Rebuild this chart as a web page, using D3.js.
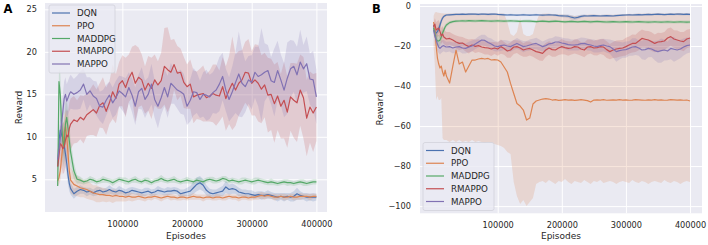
<!DOCTYPE html>
<html>
<head>
<meta charset="utf-8">
<script src="https://cdn.jsdelivr.net/npm/d3@7"></script>
<style>
  html, body { margin: 0; padding: 0; background: #fff; }
  svg { display: block; font-family: "DejaVu Sans", sans-serif; }
</style>
</head>
<body>
<svg id="chart" width="708" height="245"></svg>
<script>
const METHODS = ['DQN', 'PPO', 'MADDPG', 'RMAPPO', 'MAPPO'];
const COLORS = { DQN: '#4c72b0', PPO: '#dd8452', MADDPG: '#55a868', RMAPPO: '#c44e52', MAPPO: '#8172b3' };

// logged every 2000 episodes at the start, every 5000 after
const EPISODES = d3.range(0, 20000, 2000).concat(d3.range(20000, 400001, 5000));
const X_TICKS = [100000, 200000, 300000, 400000];
const Y_TICKS_A = [5, 10, 15, 20, 25];
const Y_TICKS_B = [0, -20, -40, -60, -80, -100];

// ---- panel A : mean reward and spread ----
const dqnA = [6.5, 9.5, 10.8, 10.3, 9.8, 9.0, 8.0, 6.9, 5.5, 4.5,
  3.9, 3.3, 3.6, 3.8, 3.7, 3.5, 3.6, 3.4, 3.6, 3.7, 3.5,
  3.6, 3.8, 3.6, 3.5, 3.7, 3.6, 3.4, 3.5, 3.7, 3.6, 3.5,
  3.4, 3.5, 3.6, 3.4, 3.5, 3.7, 3.6, 3.5, 3.6, 3.6, 3.7,
  3.6, 3.3, 3.4, 3.5, 3.6, 4.0, 4.4, 4.6, 4.3, 3.7, 3.4,
  3.3, 3.4, 3.5, 3.6, 4.1, 3.8, 3.9, 3.8, 3.5, 3.4, 3.3,
  3.3, 3.2, 3.1, 3.2, 3.1, 3.1, 3.2, 3.1, 3.0, 2.9, 3.0,
  2.9, 3.0, 2.9, 3.0, 3.3, 3.1, 3.0, 2.9, 2.9, 2.9, 2.9];
const dqnA_sd = [0.5, 1.0, 1.5, 1.5, 1.5, 1.5, 1.4, 1.3, 1.1, 0.9,
  0.7, 0.6, 0.5, 0.5, 0.4, 0.5, 0.4, 0.4, 0.5, 0.4, 0.4,
  0.4, 0.5, 0.4, 0.4, 0.5, 0.4, 0.4, 0.5, 0.4, 0.4, 0.4,
  0.4, 0.5, 0.4, 0.4, 0.4, 0.5, 0.4, 0.4, 0.5, 0.4, 0.4,
  0.4, 0.5, 0.4, 0.5, 0.6, 0.7, 0.8, 0.8, 0.7, 0.6, 0.5,
  0.5, 0.4, 0.5, 0.6, 0.7, 0.6, 0.6, 0.5, 0.5, 0.4, 0.5,
  0.4, 0.5, 0.4, 0.4, 0.5, 0.4, 0.5, 0.4, 0.4, 0.5, 0.4,
  0.5, 0.4, 0.5, 0.6, 0.7, 0.5, 0.4, 0.5, 0.4, 0.5, 0.4];

const ppoA = [4.8, 5.2, 6.0, 7.5, 9.0, 10.5, 11.2, 10.0, 8.0, 6.0,
  4.9, 4.4, 4.2, 4.0, 3.9, 3.8, 3.6, 3.4, 3.3, 3.2, 3.2,
  3.1, 3.1, 3.0, 3.1, 3.0, 3.0, 2.9, 3.0, 2.9, 2.9, 3.0,
  2.9, 2.8, 2.9, 2.9, 3.0, 2.9, 2.8, 2.9, 3.0, 2.9, 2.9,
  2.8, 2.9, 2.9, 2.8, 2.9, 3.0, 2.9, 2.9, 2.8, 2.9, 2.9,
  2.8, 2.9, 2.9, 2.8, 2.9, 3.0, 2.9, 2.9, 2.8, 2.9, 2.9,
  2.8, 2.9, 2.9, 3.0, 3.1, 3.0, 3.1, 3.0, 2.9, 2.9, 3.0,
  2.9, 2.9, 3.0, 2.9, 2.9, 3.0, 3.0, 3.0, 2.9, 3.0, 3.0];
const ppoA_sd = [0.5, 0.8, 1.2, 1.5, 1.8, 2.0, 2.0, 2.0, 2.0, 1.8,
  1.5, 1.3, 1.2, 1.1, 1.0, 1.1, 1.0, 0.9, 1.0, 0.9, 0.8,
  0.8, 0.7, 0.8, 0.7, 0.6, 0.6, 0.5, 0.5, 0.5, 0.4, 0.4,
  0.4, 0.4, 0.3, 0.4, 0.3, 0.3, 0.4, 0.3, 0.3, 0.4, 0.3,
  0.3, 0.4, 0.3, 0.3, 0.3, 0.4, 0.3, 0.3, 0.4, 0.3, 0.3,
  0.3, 0.4, 0.3, 0.3, 0.4, 0.3, 0.3, 0.3, 0.4, 0.3, 0.3,
  0.3, 0.4, 0.3, 0.4, 0.4, 0.4, 0.3, 0.3, 0.4, 0.3, 0.3,
  0.4, 0.3, 0.3, 0.4, 0.3, 0.4, 0.3, 0.3, 0.4, 0.3, 0.3];

const maddpgA = [4.2, 16.5, 15.0, 11.5, 9.5, 8.8, 11.5, 12.3, 11.0, 9.5,
  8.2, 6.0, 5.0, 4.9, 4.7, 4.8, 5.0, 4.9, 4.7, 4.8, 5.0,
  4.9, 4.8, 4.6, 4.8, 5.0, 4.9, 4.8, 4.7, 4.9, 5.0, 4.8,
  4.7, 4.9, 4.8, 4.6, 4.8, 4.9, 5.1, 4.9, 4.8, 4.9, 5.0,
  4.8, 4.7, 4.8, 4.9, 4.8, 4.7, 4.9, 4.8, 4.7, 4.9, 5.0,
  4.9, 4.8, 4.9, 5.1, 5.0, 4.8, 4.9, 4.8, 4.7, 4.8, 4.9,
  4.8, 4.7, 4.8, 4.9, 4.8, 4.7, 4.6, 4.7, 4.6, 4.5, 4.6,
  4.7, 4.6, 4.6, 4.5, 4.6, 4.7, 4.6, 4.5, 4.6, 4.7, 4.7];
const maddpgA_sd = [0.5, 1.5, 2.5, 2.5, 2.5, 2.5, 2.5, 2.0, 2.0, 2.0,
  1.5, 1.0, 0.5, 0.4, 0.3, 0.3, 0.4, 0.3, 0.3, 0.3, 0.4,
  0.3, 0.3, 0.4, 0.3, 0.3, 0.3, 0.4, 0.3, 0.3, 0.4, 0.3,
  0.3, 0.3, 0.4, 0.3, 0.3, 0.3, 0.4, 0.3, 0.3, 0.3, 0.4,
  0.3, 0.3, 0.3, 0.4, 0.3, 0.3, 0.3, 0.4, 0.3, 0.3, 0.3,
  0.4, 0.3, 0.3, 0.3, 0.4, 0.3, 0.3, 0.3, 0.3, 0.4, 0.3,
  0.3, 0.3, 0.4, 0.3, 0.3, 0.3, 0.3, 0.4, 0.3, 0.3, 0.3,
  0.3, 0.4, 0.3, 0.3, 0.3, 0.3, 0.4, 0.3, 0.3, 0.3, 0.3];

const rmappoA = [6.5, 7.8, 9.2, 9.0, 8.6, 8.8, 9.6, 10.2, 10.0, 11.0,
  11.5, 12.0, 11.8, 12.3, 12.0, 12.6, 12.9, 13.2, 12.8, 13.7, 14.0,
  13.0, 14.0, 15.3, 14.5, 16.2, 16.6, 15.8, 16.9, 17.6, 16.3, 17.0,
  16.7, 15.5, 16.3, 15.7, 16.7, 16.1, 16.6, 18.3, 17.9, 17.6, 18.5,
  17.5, 17.6, 16.4, 15.9, 16.2, 14.7, 14.9, 15.0, 15.1, 14.6, 14.8,
  15.1, 14.9, 14.8, 15.9, 14.5, 15.5, 16.3, 15.5, 16.3, 16.7, 17.6,
  17.5, 16.3, 16.7, 16.3, 15.6, 16.1, 14.9, 15.0, 13.9, 14.8, 13.6,
  14.3, 12.9, 14.7, 14.3, 14.0, 15.5, 14.6, 12.2, 13.5, 12.8, 13.5];
const rmappoA_sd = [1.0, 1.5, 2.0, 2.5, 3.0, 3.0, 3.2, 3.0, 3.0, 3.0,
  3.0, 2.8, 2.5, 2.6, 2.8, 2.5, 2.7, 3.0, 2.8, 2.6, 3.0,
  2.8, 2.5, 3.2, 2.9, 2.6, 3.0, 3.5, 2.8, 3.0, 4.5, 3.5,
  3.0, 2.8, 3.2, 3.6, 3.0, 2.8, 3.3, 4.5, 5.0, 3.8, 3.0,
  3.2, 2.8, 3.0, 2.6, 2.9, 3.1, 2.8, 3.0, 3.3, 2.8, 3.0,
  3.4, 3.6, 3.0, 3.5, 3.8, 4.0, 5.5, 4.2, 3.8, 3.5, 3.6,
  4.0, 3.8, 4.2, 4.5, 4.0, 3.8, 4.4, 4.2, 4.6, 4.0, 3.8,
  4.5, 4.2, 4.0, 4.4, 4.6, 4.2, 4.8, 4.5, 4.2, 4.6, 4.0];

const mappoA = [7.3, 8.5, 9.8, 11.5, 13.0, 14.5, 15.0, 14.2, 14.6, 15.0,
  15.3, 15.0, 15.2, 15.5, 16.2, 15.0, 15.4, 14.8, 14.5, 13.6, 13.5,
  14.3, 14.9, 14.0, 14.6, 15.4, 15.1, 14.7, 15.8, 14.9, 13.6, 15.3,
  15.7, 14.4, 15.0, 16.2, 14.4, 13.6, 14.6, 15.8, 14.7, 16.3, 15.9,
  15.5, 15.3, 15.0, 13.6, 14.3, 15.3, 15.2, 14.4, 15.0, 14.9, 14.7,
  15.2, 15.5, 16.2, 17.1, 15.5, 14.4, 15.3, 16.4, 17.4, 16.3, 15.9,
  16.7, 16.4, 17.6, 17.1, 17.3, 17.6, 17.8, 16.6, 16.4, 17.8, 16.7,
  15.5, 16.9, 18.0, 18.3, 17.3, 18.8, 18.0, 18.6, 16.8, 16.7, 14.7];
const mappoA_sd = [1.0, 1.5, 2.0, 2.0, 2.0, 2.0, 2.0, 2.0, 2.0, 2.0,
  2.0, 1.8, 2.0, 2.2, 1.8, 2.0, 1.6, 1.8, 2.0, 1.7, 2.0,
  1.8, 1.6, 1.8, 2.0, 1.8, 2.0, 2.2, 1.8, 2.0, 2.2, 2.0,
  2.5, 2.2, 2.0, 2.4, 2.2, 2.6, 2.0, 2.2, 2.5, 2.4, 2.0,
  2.2, 2.6, 2.4, 2.2, 2.5, 2.8, 2.4, 2.2, 2.6, 3.0, 2.6,
  2.4, 2.8, 3.2, 2.8, 2.5, 2.6, 3.0, 3.6, 5.0, 4.0, 3.0,
  2.8, 3.2, 3.0, 3.5, 5.5, 3.4, 3.0, 2.8, 4.0, 3.5, 3.0,
  3.2, 4.2, 3.4, 3.0, 3.3, 3.8, 2.8, 3.2, 3.0, 3.4, 3.2];

// ---- panel B : mean reward and spread ----
const dqnB = [-9.5, -12.5, -13.5, -12.8, -11.5, -9.5, -7.5, -6.0, -5.2, -4.8,
  -4.5, -4.4, -4.3, -4.2, -4.2, -4.1, -4.2, -4.1, -4.0, -4.1, -4.2,
  -4.0, -4.1, -4.2, -4.1, -4.0, -4.2, -4.3, -4.4, -4.5, -4.4, -4.5,
  -4.6, -4.5, -4.4, -4.5, -4.6, -4.5, -4.4, -4.5, -4.6, -4.5, -4.4,
  -4.5, -4.6, -4.8, -4.9, -5.0, -5.1, -5.6, -6.0, -5.7, -5.2, -4.9,
  -5.0, -4.9, -4.8, -4.9, -5.0, -4.9, -4.8, -4.9, -5.0, -4.8, -4.7,
  -4.6, -4.5, -4.4, -4.5, -4.4, -4.3, -4.4, -4.3, -4.2, -4.3, -4.2,
  -4.1, -4.2, -4.3, -4.2, -4.1, -4.2, -4.0, -4.1, -4.2, -4.1, -4.2];
const dqnB_sd = [1.0, 1.5, 2.0, 2.0, 2.0, 1.8, 1.5, 1.0, 0.8, 0.6,
  0.5, 0.5, 0.5, 0.4, 0.5, 0.5, 0.4, 0.5, 0.5, 0.4, 0.5,
  0.5, 0.4, 0.5, 0.5, 0.4, 0.5, 0.5, 0.5, 0.4, 0.5, 0.5,
  0.4, 0.5, 0.5, 0.5, 0.4, 0.5, 0.5, 0.4, 0.5, 0.5, 0.5,
  0.5, 0.5, 0.6, 0.7, 0.8, 0.9, 1.0, 1.0, 0.9, 0.8, 0.6,
  0.5, 0.5, 0.5, 0.4, 0.5, 0.5, 0.4, 0.5, 0.5, 0.5, 0.4,
  0.5, 0.5, 0.4, 0.5, 0.5, 0.5, 0.4, 0.5, 0.5, 0.5, 0.4,
  0.5, 0.5, 0.5, 0.4, 0.5, 0.5, 0.5, 0.6, 0.5, 0.5, 0.5];

const ppoB = [-8, -12, -20, -26, -29, -31, -30, -33, -35, -32,
  -35, -38.5, -30, -22, -29, -28, -33, -30, -27, -27, -26.5,
  -26.2, -26.5, -26.2, -27, -26.8, -27, -28, -30.5, -33, -38.7, -43.7,
  -48.7, -50, -52, -57, -56, -49, -47.5, -47, -46.5, -46.3, -46.5,
  -47, -46.8, -47.2, -47, -46.8, -47, -46.9, -47.2, -47, -46.8, -47,
  -47.3, -48, -47, -46.9, -47, -46.8, -47.1, -47, -46.9, -47, -46.8,
  -47, -46.9, -47.1, -47, -46.8, -46.9, -47, -47.1, -46.9, -47, -46.8,
  -47, -46.9, -47.1, -47, -46.8, -46.9, -47, -46.9, -47.1, -47, -47.5];
const ppoB_lo = [-20, -30, -47, -45, -47, -47, -46, -66, -67, -67,
  -67, -68, -67, -68, -67, -68, -67.5, -68, -67, -68, -67.5,
  -68, -68.5, -68, -68.5, -69, -69.5, -70, -71, -73, -74, -88,
  -95, -99, -97, -100, -98, -96, -89, -88, -87.5, -88.5, -87,
  -88, -89, -87.5, -88, -86.5, -88, -89, -87.5, -88, -88.5, -87,
  -88, -89, -87.5, -88, -87, -88.5, -88, -87.5, -88, -89, -88,
  -87.5, -88, -88.5, -87, -88, -88.5, -87.5, -88, -89, -88, -87.5,
  -88, -88.5, -87, -88, -88.5, -87.5, -88, -89, -88, -87.5, -88];
const ppoB_hi = [-5.0, -3.2, -3.0, -3.2, -3.4, -3.5, -3.6, -3.6, -3.7, -3.7,
  -3.8, -3.7, -3.8, -3.6, -3.7, -3.8, -3.7, -3.6, -3.7, -3.8, -3.7,
  -3.8, -3.7, -3.6, -3.7, -3.8, -3.7, -3.8, -3.9, -8.0, -14.0, -15.0,
  -13.0, -6.0, -14.0, -15.0, -15.0, -14.0, -8.0, -4.2, -3.9, -3.8, -3.9,
  -4.0, -4.1, -4.2, -4.3, -4.4, -4.5, -4.8, -5.0, -4.9, -4.6, -4.4,
  -4.4, -4.3, -4.3, -4.4, -4.5, -4.4, -4.3, -4.4, -4.4, -4.3, -4.2,
  -4.1, -4.0, -3.9, -4.0, -3.9, -3.8, -3.9, -3.8, -3.7, -3.8, -3.7,
  -3.6, -3.7, -3.8, -3.7, -3.6, -3.7, -3.5, -3.6, -3.7, -3.6, -3.7];

const maddpgB = [-11, -14, -16.5, -17.5, -17.5, -17, -15.5, -13.5, -12, -10.5,
  -9.5, -8.3, -7.8, -7.6, -7.5, -7.4, -7.5, -7.3, -7.4, -7.5, -7.4,
  -7.3, -7.4, -7.5, -7.6, -7.5, -7.4, -7.5, -7.6, -7.5, -7.4, -7.5,
  -7.6, -7.7, -7.6, -7.5, -7.6, -7.7, -7.8, -7.7, -7.6, -7.7, -7.8,
  -7.7, -7.6, -7.7, -7.8, -7.9, -7.8, -7.7, -7.8, -7.9, -7.8, -7.7,
  -7.8, -7.9, -7.8, -7.7, -7.8, -7.9, -8.0, -7.9, -7.8, -7.9, -8.0,
  -7.9, -7.8, -7.9, -8.0, -7.9, -7.8, -7.9, -8.0, -8.1, -8.0, -7.9,
  -8.0, -8.1, -8.0, -7.9, -8.0, -8.1, -8.0, -7.9, -8.0, -8.1, -8.0];
const maddpgB_sd = [1.0, 2.0, 2.5, 3.0, 3.0, 3.0, 2.5, 2.0, 1.5, 1.2,
  1.0, 0.8, 0.7, 0.7, 0.6, 0.7, 0.7, 0.6, 0.7, 0.7, 0.6,
  0.7, 0.7, 0.6, 0.7, 0.8, 0.7, 0.7, 0.6, 0.7, 0.7, 0.8,
  0.7, 0.6, 0.7, 0.7, 0.8, 0.7, 0.7, 0.6, 0.7, 0.7, 0.7,
  0.8, 0.7, 0.6, 0.7, 0.7, 0.7, 0.8, 0.7, 0.6, 0.7, 0.7,
  0.7, 0.8, 0.7, 0.6, 0.7, 0.7, 0.7, 0.8, 0.7, 0.6, 0.7,
  0.7, 0.7, 0.8, 0.7, 0.6, 0.7, 0.7, 0.7, 0.8, 0.7, 0.6,
  0.7, 0.7, 0.7, 0.8, 0.7, 0.6, 0.7, 0.7, 0.7, 0.8, 0.7];

const rmappoB = [-10.3, -9.0, -12.0, -11.5, -11.0, -12.8, -15.0, -14.0, -15.5, -16.0,
  -16.5, -16.2, -17.0, -18.0, -18.7, -18.5, -19.5, -20.3, -19.5, -20.2, -19.8,
  -20.5, -20.8, -21.0, -21.5, -21.0, -21.5, -20.3, -21.2, -22.5, -22.0, -20.5,
  -20.3, -21.0, -22.0, -21.5, -21.2, -22.0, -22.8, -23.2, -23.7, -22.0, -21.0,
  -21.8, -22.0, -21.0, -20.3, -20.8, -21.2, -21.0, -20.3, -20.5, -21.5, -22.0,
  -20.5, -20.3, -21.0, -20.8, -20.3, -20.5, -21.8, -22.8, -22.0, -21.5, -21.2,
  -21.0, -20.3, -19.5, -18.7, -18.7, -17.5, -16.2, -16.6, -17.0, -17.8, -18.7,
  -18.0, -17.8, -17.5, -16.0, -15.3, -16.5, -17.0, -17.5, -17.8, -16.5, -16.0];
const rmappoB_sd = [2.0, 3.0, 4.0, 4.0, 4.0, 4.0, 4.0, 4.0, 3.5, 3.5,
  3.5, 3.2, 3.0, 3.2, 3.4, 3.0, 3.2, 3.5, 3.0, 3.3, 3.2,
  3.0, 3.4, 3.2, 3.5, 3.0, 3.3, 3.6, 3.2, 3.4, 3.8, 3.5,
  3.2, 3.6, 3.4, 3.8, 3.5, 3.3, 3.6, 4.0, 3.8, 3.5, 3.4,
  3.6, 3.3, 3.5, 3.8, 3.4, 3.6, 3.3, 3.5, 3.7, 3.4, 3.6,
  3.8, 3.5, 3.6, 3.9, 3.7, 4.0, 4.2, 3.8, 4.0, 4.3, 4.1,
  4.0, 4.4, 4.2, 4.5, 4.3, 4.6, 4.4, 4.2, 4.5, 4.7, 4.4,
  4.6, 4.3, 4.5, 4.8, 4.6, 4.4, 4.7, 4.5, 4.8, 4.6, 4.5];

const mappoB = [-12, -15, -17, -19, -20.5, -21.2, -20.5, -20, -19.8, -20.3,
  -20.5, -20.3, -21.0, -20.5, -20.3, -21.0, -21.2, -20.5, -20.0, -19.0, -18.0,
  -17.0, -17.2, -18.2, -19.0, -20.0, -20.3, -19.8, -19.5, -20.0, -20.3, -19.5,
  -18.7, -19.5, -20.3, -20.0, -19.5, -19.0, -18.7, -19.5, -20.3, -19.8, -18.9,
  -18.7, -18.0, -18.0, -18.5, -18.8, -19.3, -19.5, -19.5, -19.3, -18.8, -18.7,
  -19.2, -19.5, -20.0, -20.3, -19.8, -19.5, -20.0, -20.3, -21.5, -22.8, -22.3,
  -22.0, -21.8, -21.2, -20.5, -20.3, -21.0, -22.0, -21.8, -21.2, -21.5, -22.3,
  -22.8, -22.3, -22.0, -22.5, -21.2, -21.6, -22.0, -21.5, -20.5, -19.8, -19.5];
const mappoB_sd = [2.0, 3.0, 3.5, 3.5, 3.0, 3.0, 3.0, 3.0, 2.8, 2.8,
  2.6, 2.5, 2.8, 2.6, 2.4, 2.7, 2.5, 2.6, 2.8, 2.5, 2.7,
  2.6, 2.8, 2.5, 2.7, 2.6, 2.4, 2.7, 2.5, 2.8, 2.6, 2.5,
  2.7, 2.6, 2.8, 2.5, 2.7, 2.6, 2.8, 2.7, 2.5, 2.8, 2.6,
  2.7, 2.9, 2.6, 2.8, 2.7, 3.0, 2.8, 2.7, 2.9, 3.1, 2.8,
  3.0, 2.9, 3.2, 3.0, 3.3, 3.1, 3.4, 3.6, 4.2, 5.0, 4.4,
  3.8, 4.0, 3.6, 4.4, 4.2, 3.8, 4.6, 5.2, 4.4, 4.0, 4.8,
  5.6, 6.0, 5.2, 4.6, 5.4, 6.2, 5.0, 4.6, 4.2, 4.0, 3.8];

// mean +/- spread, or explicit bounds when the band is lopsided
function band(mean, sd) {
  return { mean, lo: mean.map((v, i) => v - sd[i]), hi: mean.map((v, i) => v + sd[i]) };
}

const seriesA = {
  DQN: band(dqnA, dqnA_sd),
  PPO: band(ppoA, ppoA_sd),
  MADDPG: band(maddpgA, maddpgA_sd),
  RMAPPO: band(rmappoA, rmappoA_sd),
  MAPPO: band(mappoA, mappoA_sd),
};
const seriesB = {
  DQN: band(dqnB, dqnB_sd),
  PPO: { mean: ppoB, lo: ppoB_lo, hi: ppoB_hi },
  MADDPG: band(maddpgB, maddpgB_sd),
  RMAPPO: band(rmappoB, rmappoB_sd),
  MAPPO: band(mappoB, mappoB_sd),
};

const svg = d3.select('#chart');
const TEXT = '#262626';

function drawPanel(id, p) {
  const x = d3.scaleLinear().domain(p.xDomain).range([p.left, p.right]);
  const y = d3.scaleLinear().domain(p.yDomain).range([p.bottom, p.top]);
  const w = p.right - p.left;
  const h = p.bottom - p.top;

  svg.append('rect')
    .attr('x', p.left).attr('y', p.top)
    .attr('width', w).attr('height', h)
    .attr('fill', '#eaeaf2');

  const gx = svg.append('g')
    .attr('transform', `translate(0,${p.bottom})`)
    .call(d3.axisBottom(x).tickValues(X_TICKS).tickFormat(d3.format('d')).tickSize(-h).tickPadding(9));
  const gy = svg.append('g')
    .attr('transform', `translate(${p.left},0)`)
    .call(d3.axisLeft(y).tickValues(p.yTicks).tickSize(-w).tickPadding(p.yPad));
  [gx, gy].forEach((g) => {
    g.select('.domain').remove();
    g.selectAll('.tick line').attr('stroke', '#fff').attr('stroke-width', 1);
    g.selectAll('.tick text')
      .attr('fill', TEXT)
      .attr('font-size', 8.2)
      .attr('font-family', '"DejaVu Sans", sans-serif');
  });

  svg.append('clipPath').attr('id', `clip-${id}`)
    .append('rect').attr('x', p.left).attr('y', p.top).attr('width', w).attr('height', h);
  const plot = svg.append('g').attr('clip-path', `url(#clip-${id})`);

  // bands sit under every line, as in matplotlib
  METHODS.forEach((m) => {
    const s = p.series[m];
    const area = d3.area()
      .x((d, i) => x(EPISODES[i]))
      .y0((d, i) => y(s.lo[i]))
      .y1((d, i) => y(s.hi[i]));
    plot.append('path')
      .attr('d', area(s.mean))
      .attr('fill', COLORS[m])
      .attr('fill-opacity', 0.2)
      .attr('stroke', 'none');
  });
  METHODS.forEach((m) => {
    const s = p.series[m];
    const line = d3.line()
      .x((d, i) => x(EPISODES[i]))
      .y((d) => y(d));
    plot.append('path')
      .attr('d', line(s.mean))
      .attr('fill', 'none')
      .attr('stroke', COLORS[m])
      .attr('stroke-width', 1.2)
      .attr('stroke-linejoin', 'round');
  });

  svg.append('text')
    .attr('x', (p.left + p.right) / 2).attr('y', 239)
    .attr('text-anchor', 'middle')
    .attr('font-size', 9).attr('fill', TEXT)
    .text('Episodes');
  svg.append('text')
    .attr('transform', `translate(${p.yLabelX},${(p.top + p.bottom) / 2}) rotate(-90)`)
    .attr('text-anchor', 'middle')
    .attr('font-size', 9).attr('fill', TEXT)
    .text('Reward');
  svg.append('text')
    .attr('x', p.letterX).attr('y', 13)
    .attr('font-size', 11.5).attr('font-weight', 700).attr('fill', '#000')
    .text(id);

  const lg = p.legend;
  svg.append('rect')
    .attr('x', lg.x).attr('y', lg.y)
    .attr('width', lg.w).attr('height', lg.h)
    .attr('rx', 2)
    .attr('fill', '#eaeaf2').attr('fill-opacity', 0.8)
    .attr('stroke', '#d2d2da').attr('stroke-width', 0.8);
  METHODS.forEach((m, i) => {
    const ry = lg.y + 8 + i * 12.75;
    svg.append('line')
      .attr('x1', lg.x + 3).attr('x2', lg.x + 21)
      .attr('y1', ry).attr('y2', ry)
      .attr('stroke', COLORS[m]).attr('stroke-width', 1.2);
    svg.append('text')
      .attr('x', lg.x + 28).attr('y', ry)
      .attr('dy', '0.35em')
      .attr('font-size', 8.7).attr('fill', TEXT)
      .text(m);
  });
}

drawPanel('A', {
  left: 45, right: 327, top: 3, bottom: 212,
  xDomain: [-19600, 416400], yDomain: [1.15, 25.75],
  yTicks: Y_TICKS_A, yPad: 8, yLabelX: 21.5, letterX: 3.5,
  series: seriesA,
  legend: { x: 49, y: 5, w: 66, h: 68 },
});
drawPanel('B', {
  left: 420, right: 702, top: 4, bottom: 213.3,
  xDomain: [-21200, 418700], yDomain: [-103.6, 1],
  yTicks: Y_TICKS_B, yPad: 9, yLabelX: 383, letterX: 372,
  series: seriesB,
  legend: { x: 423, y: 142.5, w: 71, h: 68 },
});
</script>
</body>
</html>
